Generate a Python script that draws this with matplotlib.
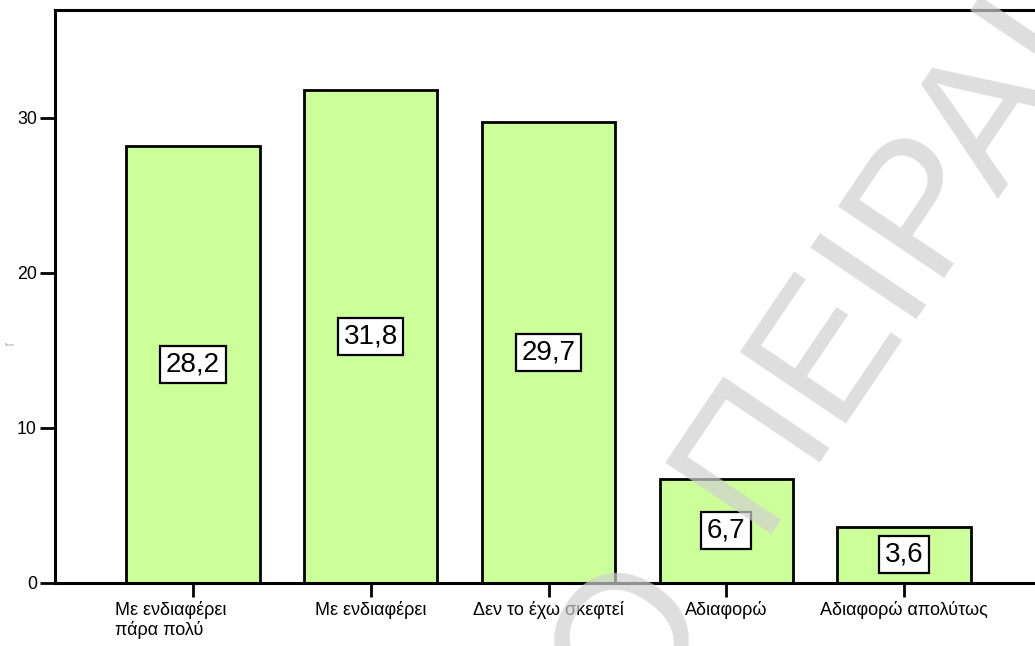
import math
import matplotlib
matplotlib.use('Agg')
import matplotlib.pyplot as plt
from matplotlib.transforms import ScaledTranslation

# Survey answers and their percentages
categories = ['Με ενδιαφέρει\nπάρα πολύ', 'Με ενδιαφέρει', 'Δεν το έχω σκεφτεί',
              'Αδιαφορώ', 'Αδιαφορώ απολύτως']
percent = [28.2, 31.8, 29.7, 6.7, 3.6]
yticks = [0, 10, 20, 30]
ytick_labels = ['0', '10', '20', '30']

plt.rcParams['font.family'] = ['Liberation Sans', 'DejaVu Sans']

W, H = 1035, 646
fig = plt.figure(figsize=(W / 100, H / 100), dpi=100)
ax = fig.add_axes([55 / W, (H - 582.5) / H, 987 / W, (582.5 - 10.3) / H])

xpos = list(range(len(percent)))
ax.bar(xpos, percent, width=0.75, color='#CCFF99', edgecolor='black',
       linewidth=2, zorder=2)

ax.set_xlim(-0.776, 4.776)
ax.set_ylim(0, 36.94)

for sp in ax.spines.values():
    sp.set_linewidth(2.2)
ax.spines['right'].set_visible(False)

ax.set_yticks(yticks, ytick_labels)
ax.set_xticks(xpos, categories)
ax.tick_params(axis='y', length=11, width=2, pad=2, labelsize=12.8)
ax.tick_params(axis='x', length=10, width=2, pad=3, labelsize=13)

# first category label is a left-aligned two-line block
first = ax.get_xticklabels()[0]
first.set_horizontalalignment('left')
first.set_multialignment('left')
first.set_transform(first.get_transform() +
                    ScaledTranslation(-0.78, 0, fig.dpi_scale_trans))

# value boxes at mid-height of each bar
for xi, v in zip(xpos, percent):
    ax.text(xi, v / 2, f'{v:.1f}'.replace('.', ','), ha='center', va='center',
            fontsize=20, zorder=3,
            bbox=dict(boxstyle='square,pad=0.2', fc='white', ec='black', lw=1.6))

# tiny axis caption at the left margin
fig.text(5 / W, (H - 345) / H, 'Percent', fontsize=2, color='#777777',
         ha='left', va='center')

# diagonal watermark
wm_size = 134
wm_angle = 56
wm = dict(fontsize=wm_size, color='#d0d0d0', alpha=0.7, rotation=wm_angle,
          rotation_mode='anchor', va='baseline', zorder=10)
px0, py0 = 756, 534
fig.text(px0 / W, (H - py0) / H, 'ΠΕΙΡΑΙΑ', ha='left', **wm)
back = 0.44 * wm_size * 100 / 72
bx = px0 - back * math.cos(math.radians(wm_angle))
by = py0 + back * math.sin(math.radians(wm_angle))
fig.text(bx / W, (H - by) / H, 'ΠΑΝΕΠΙΣΤΗΜΙΟ', ha='right', **wm)

fig.savefig('out.png', dpi=100)
